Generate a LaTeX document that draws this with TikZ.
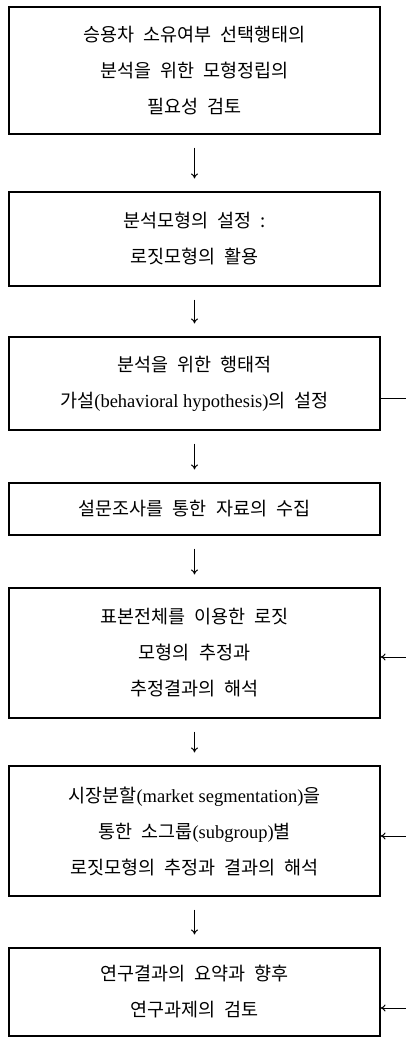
\documentclass[tikz,border=0pt]{standalone}
\usepackage{fontspec}
\usepackage{tikz}
\usetikzlibrary{arrows.meta,positioning}
\newfontfamily\kr[WordSpace=2.2]{Noto Sans CJK KR}
\newfontfamily\enfont{Liberation Serif}
\newcommand{\en}[1]{{\enfont #1}}

\begin{document}
\begin{tikzpicture}[
x=1pt,y=-1pt,
font=\kr\fontsize{18.5}{36}\selectfont,
stage/.style={draw,line width=1.1pt,minimum width=371pt,align=center,inner sep=0pt},
down/.style={-{To[length=5pt,width=7pt]},line width=1pt,shorten >=13pt,shorten <=13pt},
back/.style={{To[length=5pt,width=7pt]}-,line width=1pt}]
    \useasboundingbox (0,0) rectangle (406,1038);

    % Draw boxes
    \node[stage,minimum height=127pt] (need) at (194.5,70.5)
        {승용차 소유여부 선택행태의\\분석을 위한 모형정립의\\필요성 검토};
    \node[stage,minimum height=94pt] (model) at (194.5,239)
        {분석모형의 설정 :\\로짓모형의 활용};
    \node[stage,minimum height=93pt] (hypo) at (194.5,383.5)
        {분석을 위한 행태적\\가설\en{(behavioral hypothesis)}의 설정};
    \node[stage,minimum height=52pt] (survey) at (194.5,509)
        {설문조사를 통한 자료의 수집};
    \node[stage,minimum height=130pt] (whole) at (194.5,653)
        {표본전체를 이용한 로짓\\모형의 추정과\\추정결과의 해석};
    \node[stage,minimum height=130pt] (segment) at (194.5,831)
        {시장분할\en{(market segmentation)}을\\통한 소그룹\en{(subgroup)}별\\로짓모형의 추정과 결과의 해석};
    \node[stage,minimum height=88pt] (summary) at (194.5,992)
        {연구결과의 요약과 향후\\연구과제의 검토};

    % Draw arrows
    \draw[down] (need) -- (model);
    \draw[down] (model) -- (hypo);
    \draw[down] (hypo) -- (survey);
    \draw[down] (survey) -- (whole);
    \draw[down] (whole) -- (segment);
    \draw[down] (segment) -- (summary);

    % Feedback lines
    \coordinate (fbhypo) at (406,398);
    \coordinate (fbwhole) at (406,657);
    \coordinate (fbsegment) at (406,836);
    \coordinate (fbsummary) at (406,1008);
    \draw[line width=1pt] (hypo.east |- fbhypo) -- (fbhypo);
    \draw[back] (whole.east |- fbwhole) -- (fbwhole);
    \draw[back] (segment.east |- fbsegment) -- (fbsegment);
    \draw[back] (summary.east |- fbsummary) -- (fbsummary);

\end{tikzpicture}
\end{document}
